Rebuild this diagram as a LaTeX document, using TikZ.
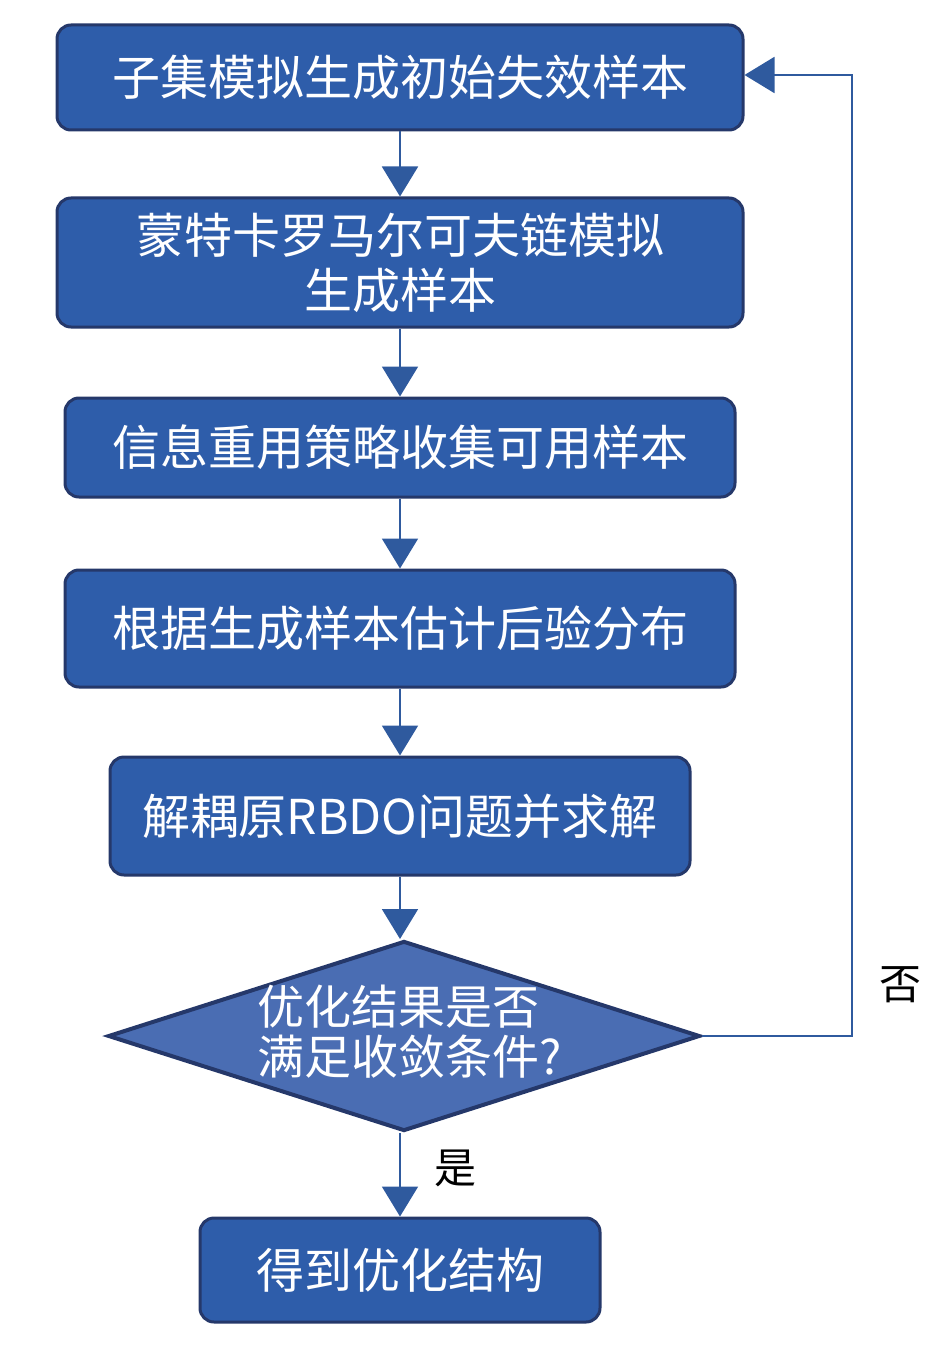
\documentclass[tikz,border=0pt]{standalone}
\usepackage{fontspec}
\setmainfont{Noto Sans CJK SC}
\usetikzlibrary{arrows.meta,shapes.geometric}
\definecolor{boxfill}{HTML}{2E5DAA}
\definecolor{boxedge}{HTML}{25386A}
\definecolor{dfill}{HTML}{4A6DB3}
\definecolor{lnc}{HTML}{2F5A9E}
\tikzset{
  stepbox/.style={draw=boxedge, line width=3pt, fill=boxfill, rounded corners=14pt, text=white,
    font=\fontsize{48}{55}\selectfont, align=center, inner sep=0pt},
  flow/.style={draw=lnc, line width=2pt, -{Triangle[width=36pt,length=30pt,fill=lnc]}},
  lbl/.style={font=\fontsize{42}{48}\selectfont, text=black}
}
\begin{document}
\begin{tikzpicture}[x=1pt,y=-1pt]
\useasboundingbox (0,0) rectangle (945,1348);
\node[stepbox, minimum width=686pt, minimum height=105pt] (b1) at (400,77.5) {子集模拟生成初始失效样本};
\node[stepbox, minimum width=686pt, minimum height=129pt] (b2) at (400,262.5) {蒙特卡罗马尔可夫链模拟\\生成样本};
\node[stepbox, minimum width=670pt, minimum height=99pt] (b3) at (400,447.5) {信息重用策略收集可用样本};
\node[stepbox, minimum width=670pt, minimum height=117pt] (b4) at (400,628.5) {根据生成样本估计后验分布};
\node[stepbox, minimum width=580pt, minimum height=118pt] (b5) at (400,816) {解耦原RBDO问题并求解};
\node[diamond, draw=boxedge, line width=4pt, fill=dfill,
  minimum width=592pt, minimum height=190pt, inner sep=0pt, aspect=3.1] (d) at (404,1036) {};
\node[text=white, font=\fontsize{47}{50}\selectfont, align=left] (dt) at (410,1032) {优化结果是否\\满足收敛条件?};
\node[stepbox, minimum width=400pt, minimum height=104pt] (b6) at (400,1270) {得到优化结构};
\draw[flow] (b1) -- (b2);
\draw[flow] (b2) -- (b3);
\draw[flow] (b3) -- (b4);
\draw[flow] (b4) -- (b5);
\draw[flow] (b5.south) -- (d.north -| b5.south);
\draw[flow] (d.south -| b6.north) -- (b6.north);
\coordinate (c1) at (852,1036);
\coordinate (c2) at (852,75);
\draw[flow] (d.east) -- (c1) -- (c2) -- (b1.east |- c2);
\node[lbl] (no) at (900,985) {否};
\node[lbl] (yes) at (455,1168) {是};
\end{tikzpicture}
\end{document}
